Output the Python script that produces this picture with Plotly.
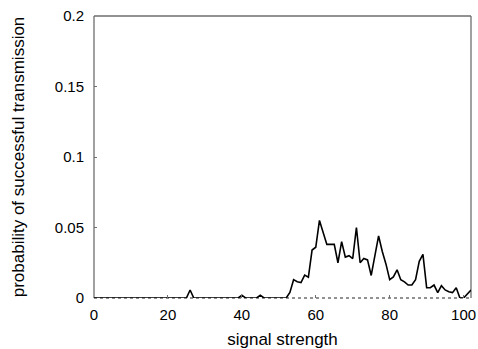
import plotly.graph_objects as go

# signal strength bins 0..102
strength = list(range(0, 103))

# probability of successful transmission per signal strength
prob = [0.0] * 103
prob[26] = 0.0057
prob[40] = 0.002
prob[45] = 0.002
tail = {
    53: 0.004, 54: 0.013, 55: 0.0115, 56: 0.011, 57: 0.0162, 58: 0.0147,
    59: 0.034, 60: 0.036, 61: 0.055, 62: 0.046, 63: 0.038, 64: 0.038,
    65: 0.038, 66: 0.025, 67: 0.040, 68: 0.029, 69: 0.030, 70: 0.028,
    71: 0.050, 72: 0.025, 73: 0.028, 74: 0.027, 75: 0.016, 76: 0.030,
    77: 0.044, 78: 0.033, 79: 0.024, 80: 0.013, 81: 0.015, 82: 0.020,
    83: 0.013, 84: 0.0115, 85: 0.0092, 86: 0.0092, 87: 0.013, 88: 0.026,
    89: 0.031, 90: 0.0073, 91: 0.0073, 92: 0.0092, 93: 0.0038, 94: 0.0087,
    95: 0.0057, 96: 0.0045, 97: 0.0038, 98: 0.0073, 99: 0.0, 100: 0.0,
    101: 0.0026, 102: 0.0057,
}
for k, v in tail.items():
    prob[k] = v

x_ticks = [0, 20, 40, 60, 80, 100]
y_ticks = [0, 0.05, 0.1, 0.15, 0.2]
y_tick_text = ["0", "0.05", "0.1", "0.15", "0.2"]

AXIS = "#6e6e6e"
FONT = "Liberation Sans, Arial, sans-serif"

fig = go.Figure()
fig.add_trace(go.Scatter(
    x=strength, y=prob, mode="lines",
    line=dict(color="black", width=1.6),
    showlegend=False,
))

# frame: solid left/top/right, dotted bottom
frame = [
    (0, 0, 0, 1, "solid"),
    (0, 1, 1, 1, "solid"),
    (1, 0, 1, 1, "solid"),
    (0, 0, 1, 0, "dot"),
]
for x0, y0, x1, y1, dash in frame:
    fig.add_shape(type="line", xref="paper", yref="paper",
                  x0=x0, y0=y0, x1=x1, y1=y1,
                  line=dict(color=AXIS, width=1.3, dash=dash), layer="below")

fig.update_layout(
    width=478, height=349,
    margin=dict(l=94, r=7, t=16, b=51),
    paper_bgcolor="white", plot_bgcolor="white",
    font=dict(family=FONT, size=15, color="black"),
    xaxis=dict(
        range=[0, 102], tickvals=x_ticks, ticks="inside", ticklen=3,
        tickcolor=AXIS, showgrid=False, zeroline=False, showline=False,
        ticklabelstandoff=6, tickfont=dict(size=15), automargin=False,
        title=dict(text="signal strength", font=dict(size=17), standoff=12),
    ),
    yaxis=dict(
        range=[0, 0.2], tickvals=y_ticks, ticktext=y_tick_text,
        ticks="inside", ticklen=3, tickcolor=AXIS, showgrid=False,
        zeroline=False, showline=False, ticklabelstandoff=9,
        tickfont=dict(size=15), automargin=False,
        title=dict(text="probability of successful transmission",
                   font=dict(size=17), standoff=25),
    ),
)

fig.write_html("out.html")
